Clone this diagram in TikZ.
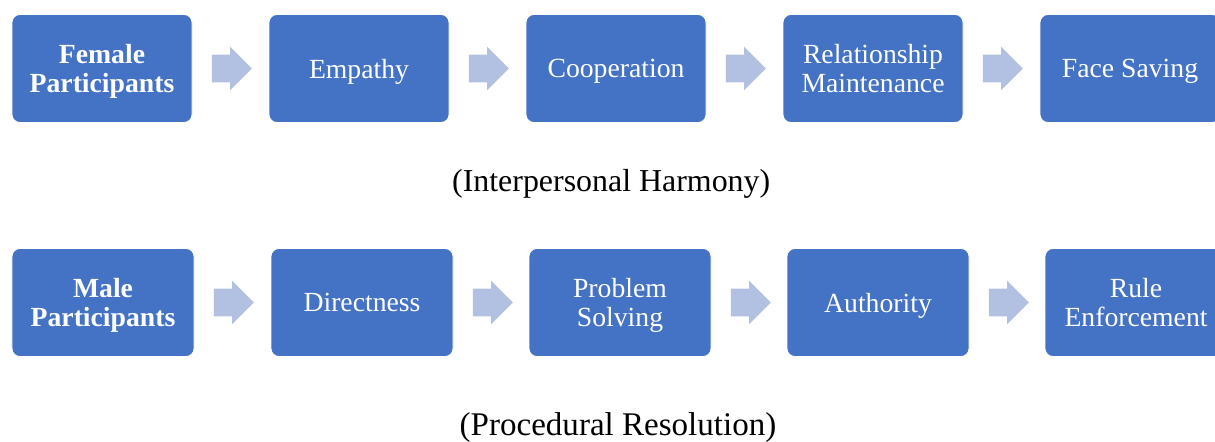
\documentclass[tikz,border=0pt]{standalone}
\usepackage{fontspec}
\setmainfont{Liberation Serif}
\usepackage{xcolor}
\usetikzlibrary{shapes, shapes.arrows, positioning}

\definecolor{boxblue}{HTML}{4472C4}
\definecolor{arrowblue}{HTML}{B2C0E1}

\tikzset{
    stage/.style={draw=white, line width=0.6pt, fill=boxblue, text=white, rounded corners=0.2cm,
        minimum width=4.5cm, minimum height=2.7cm, align=center, inner sep=0pt, text depth=0pt,
        font=\fontsize{19.7}{20.2}\selectfont},
    flowarrow/.style={single arrow, fill=arrowblue, draw=none, inner xsep=0pt, inner ysep=0.3375cm,
        minimum height=1cm, minimum width=1.075cm, single arrow head extend=0.2cm},
    caption/.style={font=\fontsize{23.5}{26}\selectfont}
}

\begin{document}
\begin{tikzpicture}
    \useasboundingbox (0, 0) rectangle (30.375, -11.025);

    % female row
    \node[stage] (f1) at (2.55, -1.7125) {\textbf{Female}\\\textbf{Participants}};
    \node[stage] (f2) at (8.975, -1.7125) {Empathy};
    \node[stage] (f3) at (15.4, -1.7125) {Cooperation};
    \node[stage] (f4) at (21.825, -1.7125) {Relationship\\Maintenance};
    \node[stage] (f5) at (28.25, -1.7125) {Face Saving};

    \node[flowarrow, right=0.48cm of f1] (fa1) {};
    \node[flowarrow, right=0.48cm of f2] (fa2) {};
    \node[flowarrow, right=0.48cm of f3] (fa3) {};
    \node[flowarrow, right=0.48cm of f4] (fa4) {};

    \node[caption, font=\fontsize{22.7}{25}\selectfont] (fcap) at (15.28, -4.6) {(Interpersonal Harmony)};

    % male row
    \node[stage, minimum width=4.55cm] (m1) at (2.575, -7.5625) {\textbf{Male}\\\textbf{Participants}};
    \node[stage, minimum width=4.55cm] (m2) at (9.05, -7.5625) {Directness};
    \node[stage, minimum width=4.55cm] (m3) at (15.5, -7.5625) {Problem\\Solving};
    \node[stage, minimum width=4.55cm] (m4) at (21.95, -7.5625) {Authority};
    \node[stage, minimum width=4.55cm] (m5) at (28.4, -7.5625) {Rule\\Enforcement};

    \node[flowarrow, right=0.48cm of m1] (ma1) {};
    \node[flowarrow, right=0.48cm of m2] (ma2) {};
    \node[flowarrow, right=0.48cm of m3] (ma3) {};
    \node[flowarrow, right=0.48cm of m4] (ma4) {};

    \node[caption] (mcap) at (15.45, -10.68) {(Procedural Resolution)};
\end{tikzpicture}
\end{document}
